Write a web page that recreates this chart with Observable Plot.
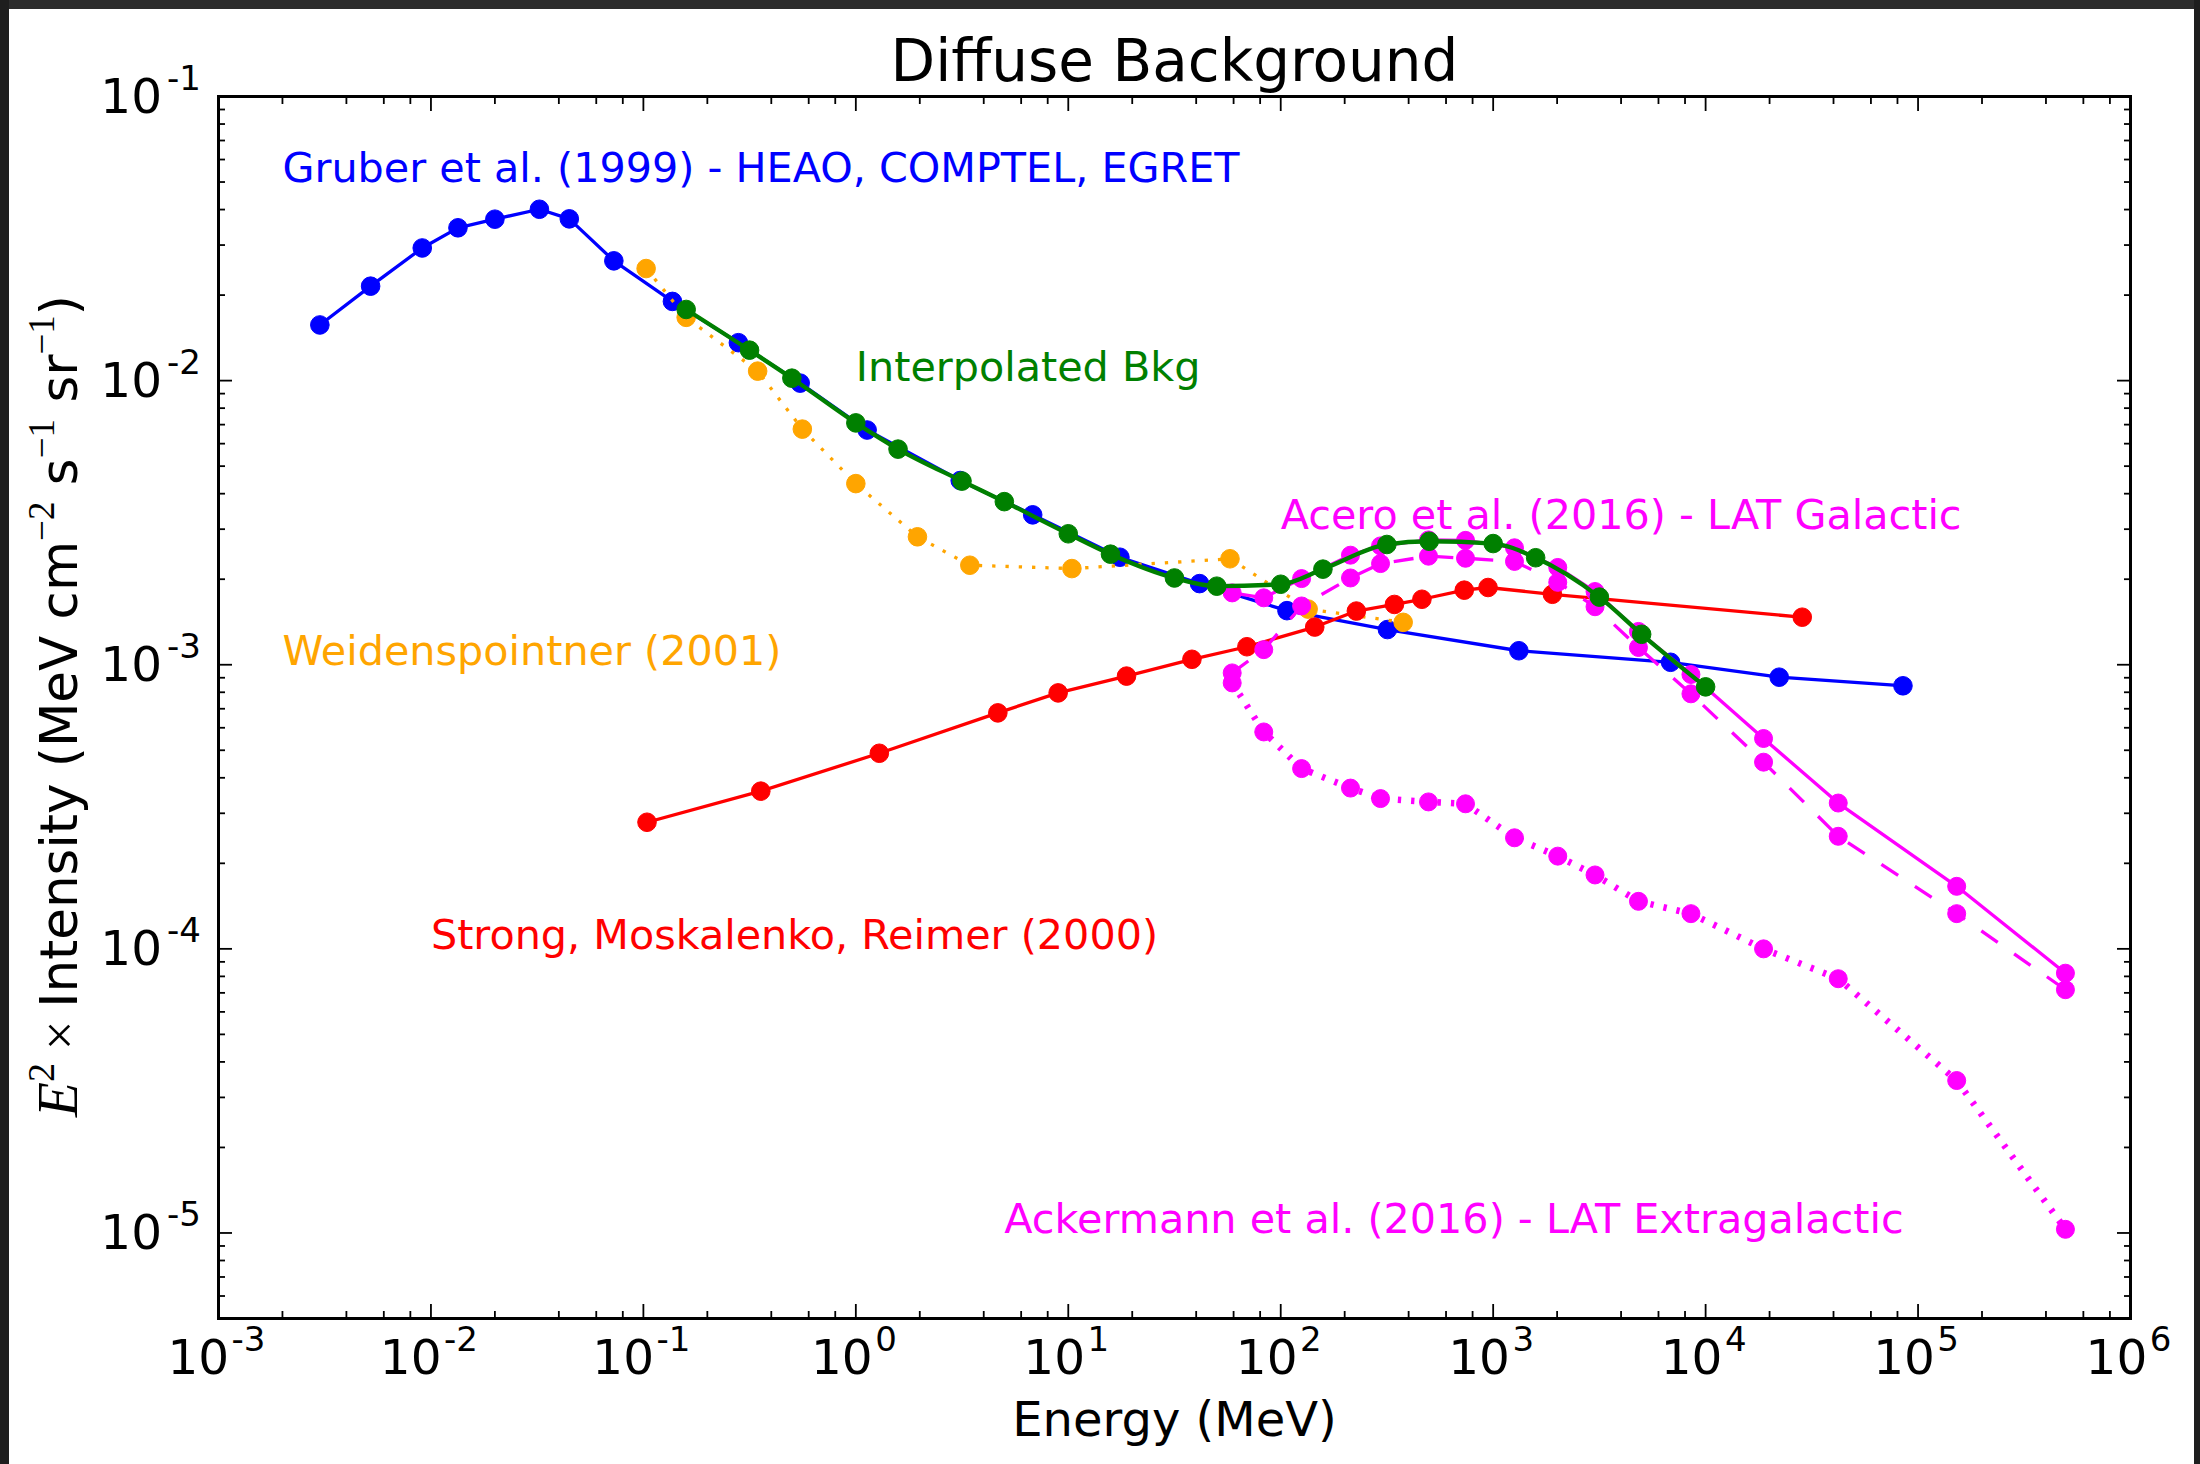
<!DOCTYPE html>
<html><head><meta charset="utf-8">
<script src="https://cdn.jsdelivr.net/npm/d3@7"></script>
<script src="https://cdn.jsdelivr.net/npm/@observablehq/plot@0.6"></script>
<style>
html,body{margin:0;padding:0;background:#fff;width:2200px;height:1464px;overflow:hidden;}
#chart{position:absolute;left:0;top:0;}
.bar{position:absolute;background:#1e1e1e;}
</style></head><body>
<div id="chart"></div>
<div class="bar" style="left:0;top:0;width:2200px;height:9px;background:#2c2c2c"></div>
<div class="bar" style="left:0;top:0;width:9px;height:1464px"></div>
<div class="bar" style="left:2194px;top:0;width:6px;height:1464px"></div>
<script>
// ---- data ----
const gruberE = [0.0030, 0.0052, 0.0091, 0.0134, 0.0200, 0.0324, 0.0448, 0.0726, 0.137, 0.280, 0.547, 1.13, 3.10, 6.8, 17.5, 41.5, 107, 318, 1321, 6840, 22200, 84900];
const gruberI = [0.0157, 0.0215, 0.0293, 0.0345, 0.0370, 0.0401, 0.0371, 0.0264, 0.0190, 0.0136, 0.0098, 0.0067, 0.00445, 0.00337, 0.00239, 0.00193, 0.00155, 0.00133, 0.00112, 0.00102, 0.000904, 0.000843];

const weidE = [0.103, 0.159, 0.345, 0.56, 1.0, 1.95, 3.44, 10.4, 57.7, 134.6, 377];
const weidI = [0.0248, 0.0167, 0.0108, 0.00675, 0.00434, 0.00282, 0.00224, 0.00218, 0.00236, 0.00157, 0.00141];

const strongE = [0.104, 0.357, 1.29, 4.66, 8.96, 18.8, 38.2, 69.3, 144.6, 227, 343, 462, 731, 946, 1900, 28500];
const strongI = [0.000279, 0.000359, 0.000488, 0.000677, 0.000796, 0.000912, 0.001045, 0.001157, 0.001357, 0.001545, 0.00163, 0.00170, 0.00183, 0.00187, 0.00177, 0.00147];

const latE = [59.1, 83.2, 125.4, 213, 295, 496, 741, 1260, 2014, 3016, 4830, 8530, 18740, 42100, 152000, 494000];
const aceroSolidI = [1.79e-3, 1.72e-3, 2.01e-3, 2.43e-3, 2.62e-3, 2.75e-3, 2.74e-3, 2.58e-3, 2.20e-3, 1.81e-3, 1.31e-3, 9.24e-4, 5.50e-4, 3.26e-4, 1.66e-4, 8.21e-5];
const aceroDashedI = [9.36e-4, 1.13e-3, 1.61e-3, 2.02e-3, 2.27e-3, 2.41e-3, 2.37e-3, 2.31e-3, 1.95e-3, 1.60e-3, 1.15e-3, 7.90e-4, 4.54e-4, 2.49e-4, 1.33e-4, 7.18e-5];
const ackermannI = [8.63e-4, 5.80e-4, 4.31e-4, 3.68e-4, 3.38e-4, 3.29e-4, 3.24e-4, 2.46e-4, 2.12e-4, 1.82e-4, 1.47e-4, 1.33e-4, 1.00e-4, 7.85e-5, 3.44e-5, 1.03e-5];

const interpE = [0.159, 0.316, 0.50, 1.0, 1.58, 3.16, 5.0, 10, 15.8, 31.6, 50, 100, 158, 316, 500, 1000, 1585, 3162, 5000, 10000];
const interpI = [0.0178, 0.0128, 0.0102, 0.0071, 0.00574, 0.00443, 0.00375, 0.00289, 0.00245, 0.00202, 0.00189, 0.00192, 0.00217, 0.00265, 0.00272, 0.00267, 0.00238, 0.00173, 0.00128, 0.000836];

const annTexts = ["Gruber et al. (1999) - HEAO, COMPTEL, EGRET", "Interpolated Bkg", "Acero et al. (2016) - LAT Galactic", "Weidenspointner (2001)", "Strong, Moskalenko, Reimer (2000)", "Ackermann et al. (2016) - LAT Extragalactic"];
const annE = [2e-3, 1, 100, 2e-3, 1e-2, 5];
const annI = [5e-2, 1e-2, 3e-3, 1e-3, 1e-4, 1e-5];
const annColors = ["#0000ff", "#008000", "#ff00ff", "#ffa500", "#ff0000", "#ff00ff"];

const xTickValues = [1e-3, 1e-2, 1e-1, 1e0, 1e1, 1e2, 1e3, 1e4, 1e5, 1e6];
const xTickExps = ["-3", "-2", "-1", "0", "1", "2", "3", "4", "5", "6"];
const yTickValues = [1e-5, 1e-4, 1e-3, 1e-2, 1e-1];
const yTickExps = ["-5", "-4", "-3", "-2", "-1"];

const titleText = "Diffuse Background";
const xLabelText = "Energy (MeV)";

// ---- helpers ----
const rows = (E, I) => E.map((e, i) => ({e, v: I[i]}));
const xMinor = [];
for (let k = -3; k < 6; k++) for (const m of [2, 4, 6, 8]) xMinor.push(m * Math.pow(10, k));
const yMinor = [];
for (let k = -6; k < -1; k++) for (let m = 2; m <= 9; m++) { const v = m * Math.pow(10, k); if (v > 5.01e-6 && v < 0.1) yMinor.push(v); }

const sans = "DejaVu Sans";
const marks = [];

function series(data, color, o) {
  marks.push(Plot.line(data, {x: "e", y: "v", stroke: color, strokeWidth: o.sw,
    strokeDasharray: o.dash, strokeLinecap: o.dash ? "butt" : "square", strokeLinejoin: "round",
    curve: o.curve || "linear"}));
  marks.push(Plot.dot(data, {x: "e", y: "v", r: o.r || 9.3, fill: color, stroke: color, strokeWidth: 1}));
}

series(rows(gruberE, gruberI), "#0000ff", {sw: 3.3});
series(rows(weidE, weidI), "#ffa500", {sw: 3.3, dash: "3.3,10"});
series(rows(strongE, strongI), "#ff0000", {sw: 3.3});
series(rows(latE, aceroSolidI), "#ff00ff", {sw: 3.3, r: 9});
series(rows(latE, aceroDashedI), "#ff00ff", {sw: 3.3, dash: "20,20", r: 9});
series(rows(latE, ackermannI), "#ff00ff", {sw: 6.6, dash: "3.3,10", r: 9});
series(rows(interpE, interpI), "#008000", {sw: 4.3, curve: "monotone-x"});

// ticks (inward, on all four sides)
const tickCommon = {tickFormat: () => "", label: null, stroke: "black", strokeWidth: 1.8};
marks.push(Plot.axisX(xTickValues, {...tickCommon, anchor: "bottom", tickSize: 14, dy: -14}));
marks.push(Plot.axisX(xTickValues, {...tickCommon, anchor: "top", tickSize: 14, dy: 14}));
marks.push(Plot.axisX(xMinor, {...tickCommon, anchor: "bottom", tickSize: 7, dy: -7}));
marks.push(Plot.axisX(xMinor, {...tickCommon, anchor: "top", tickSize: 7, dy: 7}));
marks.push(Plot.axisY(yTickValues, {...tickCommon, anchor: "left", tickSize: 14, dx: 14}));
marks.push(Plot.axisY(yTickValues, {...tickCommon, anchor: "right", tickSize: 14, dx: -14}));
marks.push(Plot.axisY(yMinor, {...tickCommon, anchor: "left", tickSize: 7, dx: 7}));
marks.push(Plot.axisY(yMinor, {...tickCommon, anchor: "right", tickSize: 7, dx: -7}));

marks.push(Plot.frame({stroke: "black", strokeWidth: 3}));

// tick labels 10^k
const xLab = xTickValues.map((v, i) => ({v, exp: xTickExps[i]}));
const xNeg = xLab.filter(d => d.exp.startsWith("-"));
const xPos = xLab.filter(d => !d.exp.startsWith("-"));
const fsTick = 48.5, fsSup = 34;
for (const [set, d10, dSup] of [[xNeg, 10.6, 13.1], [xPos, 16.8, 19.3]]) {
  marks.push(Plot.text(set, {x: "v", frameAnchor: "bottom", text: () => "10", textAnchor: "end", lineAnchor: "bottom", dx: d10, dy: 55, fontSize: fsTick, fill: "black"}));
  marks.push(Plot.text(set, {x: "v", frameAnchor: "bottom", text: "exp", textAnchor: "start", lineAnchor: "bottom", dx: dSup, dy: 32, fontSize: fsSup, fill: "black"}));
}
const yLab = yTickValues.map((v, i) => ({v, exp: yTickExps[i]}));
marks.push(Plot.text(yLab, {y: "v", frameAnchor: "left", text: () => "10", textAnchor: "end", lineAnchor: "bottom", dx: -56.5, dy: 16, fontSize: fsTick, fill: "black"}));
marks.push(Plot.text(yLab, {y: "v", frameAnchor: "left", text: "exp", textAnchor: "start", lineAnchor: "bottom", dx: -51.5, dy: -6.5, fontSize: fsSup, fill: "black"}));

// annotations
const ann = annTexts.map((t, i) => ({t, e: annE[i], v: annI[i], c: annColors[i]}));
marks.push(Plot.text(ann, {x: "e", y: "v", text: "t", fill: "c", textAnchor: "start", lineAnchor: "bottom", fontSize: 41.3}));

// title and x label
marks.push(Plot.text([titleText], {frameAnchor: "top", text: d => d, lineAnchor: "bottom", dy: -16, fontSize: 58, fill: "black"}));
marks.push(Plot.text([xLabelText], {frameAnchor: "bottom", text: d => d, lineAnchor: "bottom", dy: 117, fontSize: 48, fill: "black"}));

const chart = Plot.plot({
  width: 2200, height: 1464,
  marginLeft: 218, marginRight: 70, marginTop: 96, marginBottom: 146,
  style: {fontFamily: sans, background: "white", overflow: "visible"},
  x: {type: "log", domain: [1e-3, 1e6], axis: null, label: null},
  y: {type: "log", domain: [5e-6, 0.1], axis: null, label: null},
  color: {type: "identity"},
  marks
});
document.getElementById("chart").appendChild(chart);

// y-axis label with math parts
const svg = d3.select(chart);
const serif = "Liberation Serif";
const t = svg.append("text")
  .attr("transform", "translate(77,706) rotate(-90)")
  .attr("text-anchor", "middle")
  .attr("font-family", sans).attr("font-size", 51.5).attr("fill", "black");
t.append("tspan").attr("font-family", serif).attr("font-style", "italic").attr("font-size", 57).text("E");
t.append("tspan").attr("font-family", serif).attr("font-size", 38).attr("dy", -23).text("2");
t.append("tspan").attr("font-family", serif).attr("font-size", 52).attr("dy", 23).text(" \u00d7 ");
t.append("tspan").text("Intensity (MeV cm");
t.append("tspan").attr("font-family", serif).attr("font-size", 37).attr("dy", -23).text("\u22122");
t.append("tspan").attr("dy", 23).text(" s");
t.append("tspan").attr("font-family", serif).attr("font-size", 37).attr("dy", -23).text("\u22121");
t.append("tspan").attr("dy", 23).text(" sr");
t.append("tspan").attr("font-family", serif).attr("font-size", 37).attr("dy", -23).text("\u22121");
t.append("tspan").attr("dy", 23).text(")");
</script>
</body></html>
